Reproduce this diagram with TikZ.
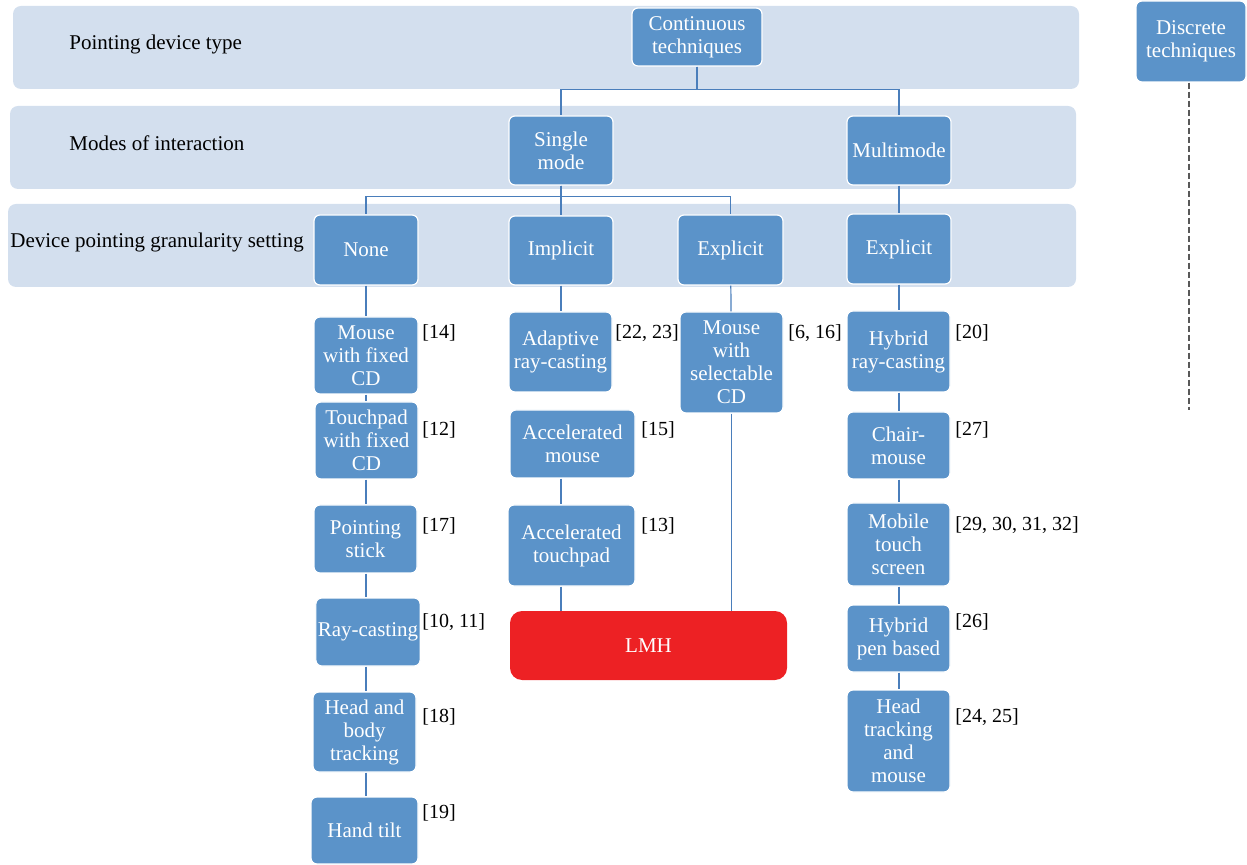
\documentclass[tikz,border=0pt]{standalone}
\usepackage[RGB]{xcolor}
\usepackage{fontspec}
\setmainfont{Liberation Serif}
\usepackage{tikz}
\newcommand{\techbox}[6]{\node[techbox, minimum width=#4*0.5pt-#2*0.5pt, minimum height=#5*0.5pt-#3*0.5pt] (#1) at ({(#2+#4)/2},{(#3+#5)/2}) {#6};}
\newcommand{\refnote}[4]{\node[refnote] (#1) at (#2,#3) {#4};}
\newcommand{\drawband}[4]{\fill[bandblue, rounded corners=4pt] (#1,#2) rectangle (#3,#4);}
\newcommand{\drawlink}{\draw[line width=0.6pt, linkblue]}
\definecolor{bandblue}{RGB}{211,223,238}
\definecolor{boxblue}{RGB}{91,147,201}
\definecolor{linkblue}{RGB}{74,126,187}
\definecolor{lmhred}{RGB}{237,33,36}
\definecolor{dashgrey}{RGB}{89,89,89}
\tikzset{
  techbox/.style={draw=white, line width=0.6pt, fill=boxblue, rounded corners=3pt, text=white,
    align=center, inner sep=1pt, font=\fontsize{10.5}{11.5}\selectfont},
  lmhbox/.style={fill=lmhred, rounded corners=6pt, text=white, font=\fontsize{10.5}{11.5}\selectfont},
  refnote/.style={anchor=west, inner sep=0pt, font=\fontsize{10}{12}\selectfont},
  levellabel/.style={anchor=west, inner sep=0pt, font=\fontsize{10.5}{12}\selectfont}
}

\begin{document}
\begin{tikzpicture}[x=0.5pt, y=-0.5pt]
\useasboundingbox (0,0) rectangle (1247,865);
% levels
\drawband{13}{6}{1079}{89}\drawband{10}{106}{1076}{189}\drawband{8}{204}{1076}{287}
\node[levellabel] (lvltype) at (69,44) {Pointing device type};
\node[levellabel] (lvlmode) at (69,143) {Modes of interaction};
\node[levellabel] (lvlgran) at (10,242) {Device pointing granularity setting};
% top of the tree
\techbox{cont}{632}{8}{762}{66}{Continuous\\techniques}
\techbox{disc}{1136}{1}{1246}{82}{Discrete\\techniques}
\techbox{single}{509}{116}{613}{185}{Single\\mode}
\techbox{multi}{847}{116}{951}{185}{Multimode}
\techbox{none}{314}{215}{418}{285}{None}
\techbox{impl}{509}{216}{613}{285}{Implicit}
\techbox{explS}{678}{215}{783}{285}{Explicit}
\techbox{explM}{847}{214}{951}{284}{Explicit}
% techniques
\techbox{mfcd}{314}{317}{418}{394}{Mouse\\with fixed\\CD}
\techbox{tfcd}{315}{402}{418}{479}{Touchpad\\with fixed\\CD}
\techbox{pstick}{314}{505}{417}{573}{Pointing\\stick}
\techbox{ray}{316}{598}{420}{666}{Ray-casting}
\techbox{hbt}{313}{692}{416}{772}{Head and\\body\\tracking}
\techbox{htilt}{311}{797}{418}{864}{Hand tilt}
\techbox{adapt}{509}{312}{612}{392}{Adaptive\\ray-casting}
\techbox{accm}{510}{410}{635}{478}{Accelerated\\mouse}
\techbox{acct}{508}{505}{635}{586}{Accelerated\\touchpad}
\techbox{msel}{680}{312}{783}{413}{Mouse\\with\\selectable\\CD}
\techbox{hray}{847}{311}{950}{392}{Hybrid\\ray-casting}
\techbox{chair}{847}{412}{950}{479}{Chair-\\mouse}
\techbox{mobile}{847}{503}{950}{586}{Mobile\\touch\\screen}
\techbox{hpen}{847}{605}{950}{672}{Hybrid\\pen based}
\techbox{htm}{847}{690}{950}{792}{Head\\tracking\\and\\mouse}
\node[lmhbox, minimum width=138.5pt, minimum height=34.5pt] (lmh) at (648.5,645.5) {LMH};
% references
\refnote{r14}{422}{333}{[14]}\refnote{r12}{422}{430}{[12]}\refnote{r17}{422}{526}{[17]}
\refnote{r1011}{422}{622}{[10, 11]}\refnote{r18}{422}{717}{[18]}\refnote{r19}{422}{813}{[19]}
\refnote{r2223}{615}{333}{[22, 23]}\refnote{r15}{641}{430}{[15]}\refnote{r13}{641}{526}{[13]}
\refnote{r616}{788}{333}{[6, 16]}
\refnote{r20}{955}{333}{[20]}\refnote{r27}{955}{430}{[27]}\refnote{r29}{955}{525}{[29, 30, 31, 32]}
\refnote{r26}{955}{622}{[26]}\refnote{r2425}{955}{717}{[24, 25]}
% links
\drawlink (cont.south) -- ++(0,23) -| (single.north);
\drawlink (cont.south) -- ++(0,23) -| (multi.north);
\drawlink (single.south) -- ++(0,11) -| (none.north);
\drawlink (single.south) -- ++(0,11) -| (impl.north);
\drawlink (single.south) -- ++(0,11) -| (explS.north);
\drawlink (multi) -- (explM);
\foreach \a/\b in {none/mfcd,mfcd/tfcd,tfcd/pstick,pstick/ray,ray/hbt,hbt/htilt}
  \drawlink (\a.south -| none.south) -- (\b.north -| none.south);
\foreach \a/\b in {impl/adapt,accm/acct,acct/lmh}
  \drawlink (\a.south -| impl.south) -- (\b.north -| impl.south);
\drawlink (explS) -- (msel);
\drawlink (msel.south) -- (lmh.north -| msel.south);
\foreach \a/\b in {explM/hray,hray/chair,chair/mobile,mobile/hpen,hpen/htm}
  \drawlink (\a.south -| explM.south) -- (\b.north -| explM.south);
\coordinate (discend) at (1189,410);
\draw[dashgrey, line width=1pt, dash pattern=on 3pt off 1.5pt] (disc.south -| discend) -- (discend);
\end{tikzpicture}
\end{document}
